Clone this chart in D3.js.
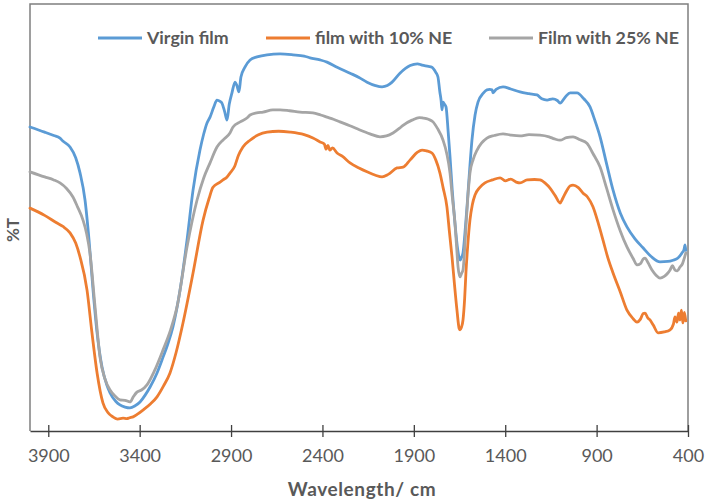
<!DOCTYPE html>
<html>
<head>
<meta charset="utf-8">
<script src="https://cdn.jsdelivr.net/npm/d3@7"></script>
<style>
  html, body { margin: 0; padding: 0; background: #fff; }
  svg { display: block; }
</style>
</head>
<body>
<svg id="chart" width="709" height="502"></svg>
<script>
// ---- data (wavenumber cm-1, %T in arbitrary 0-100 units) ----
const seriesNames = ["Virgin film", "film with 10% NE", "Film with 25% NE"];
const xTicks = [3900, 3400, 2900, 2400, 1900, 1400, 900, 400];

const virgin = [
  [4000,71.2],[3920,70.0],[3870,69.2],[3836,68.6],[3820,67.9],[3781,66.5],[3750,64.0],[3726,60.4],[3699,54.1],[3677,44.7],
  [3655,33.0],[3633,23.0],[3606,15.0],[3580,10.8],[3562,8.9],[3530,6.9],[3508,6.1],[3480,5.6],[3453,5.4],[3425,5.9],[3398,6.8],
  [3370,8.4],[3343,10.3],[3305,13.6],[3272,17.3],[3245,20.5],[3218,24.4],[3179,33.0],[3141,44.7],[3108,56.4],
  [3070,65.8],[3050,69.5],[3032,72.1],[3015,73.5],[2995,75.8],[2977,77.5],[2960,77.2],[2950,76.8],[2935,74.8],[2922,72.8],
  [2910,76.5],[2895,79.2],[2878,81.7],[2868,80.9],[2857,79.4],[2846,82.9],[2824,85.2],[2796,86.9],
  [2758,87.6],[2703,88.1],[2632,88.3],[2561,88.1],[2500,87.8],[2468,87.4],[2413,86.9],[2375,86.4],
  [2320,85.2],[2249,83.8],[2200,82.8],[2156,81.7],[2110,80.9],[2074,80.6],[2045,80.9],[2019,81.7],[1976,83.8],
  [1920,85.6],[1880,86.0],[1855,85.7],[1820,85.4],[1801,85.2],[1780,84.0],[1768,82.9],[1758,79.5],[1751,77.5],[1746,75.2],
  [1740,77.0],[1732,76.5],[1724,75.9],[1712,70.0],[1702,64.2],[1690,56.5],[1675,48.7],[1660,42.5],[1647,40.0],
  [1640,40.6],[1631,41.7],[1620,46.5],[1609,52.5],[1595,61.0],[1582,68.1],[1565,74.0],[1549,77.0],[1520,79.1],[1500,79.9],
  [1485,80.0],[1472,79.9],[1467,79.2],[1450,80.0],[1412,80.6],[1370,80.1],[1319,79.4],[1270,79.0],[1226,78.7],
  [1200,77.8],[1171,77.5],[1140,77.8],[1115,77.4],[1100,76.8],[1070,78.3],[1045,79.2],[1007,79.2],[970,77.8],
  [936,75.9],[910,72.8],[881,68.9],[845,62.5],[810,56.4],[770,51.0],[734,47.8],[690,45.0],[646,42.9],
  [600,40.8],[553,39.6],[510,39.7],[482,40.0],[455,40.5],[433,41.7],[422,42.5],[416,43.6],[412,42.3]
];

const ne10 = [
  [4000,52.2],[3920,50.5],[3852,48.7],[3820,47.9],[3781,46.4],[3750,44.0],[3726,40.7],[3688,33.0],[3661,23.0],
  [3633,13.6],[3601,6.6],[3575,4.4],[3546,3.3],[3520,2.8],[3491,3.0],[3470,2.9],[3455,3.1],[3436,3.3],[3410,4.0],
  [3382,4.9],[3340,6.4],[3305,8.0],[3270,10.5],[3234,13.6],[3200,18.5],[3163,25.3],[3108,37.0],[3053,49.4],
  [3020,54.5],[2999,57.1],[2960,58.3],[2944,58.8],[2922,59.5],[2906,60.4],[2880,62.0],[2860,64.5],[2835,66.5],
  [2796,68.1],[2750,69.4],[2703,70.0],[2640,70.2],[2577,70.0],[2500,69.4],[2452,68.6],[2413,67.7],[2390,67.2],
  [2380,66.0],[2370,66.9],[2360,65.8],[2345,66.3],[2320,65.1],[2290,64.3],[2249,62.8],[2200,61.6],[2156,60.7],[2110,59.9],
  [2074,59.5],[2040,60.1],[1992,61.6],[1959,61.8],[1920,63.5],[1880,65.3],[1855,65.8],[1830,65.6],[1801,65.1],[1780,63.5],
  [1757,60.4],[1740,57.0],[1719,52.5],[1705,46.5],[1691,40.7],[1678,34.5],[1664,28.3],[1652,24.0],[1647,23.7],
  [1640,24.2],[1631,26.0],[1622,31.0],[1615,37.0],[1605,43.5],[1593,49.4],[1580,53.0],[1565,55.3],[1540,57.0],
  [1511,58.1],[1470,58.8],[1428,59.3],[1400,58.6],[1370,59.0],[1340,58.3],[1319,58.1],[1280,58.8],[1240,58.9],
  [1210,58.8],[1180,58.0],[1155,56.9],[1125,55.0],[1100,53.4],[1085,54.5],[1062,56.4],[1045,57.4],[1029,57.6],[1000,57.0],
  [974,55.7],[950,54.8],[920,52.5],[890,48.5],[865,44.7],[840,40.8],[810,37.0],[770,32.5],[734,28.3],[700,26.3],
  [679,25.5],[660,26.2],[645,27.5],[635,27.6],[620,26.5],[608,26.0],[590,24.8],[564,23.0],[530,23.2],[498,23.7],
  [480,25.0],[471,26.7],[460,25.5],[452,27.6],[444,26.0],[436,28.3],[428,25.3],[420,27.8],[412,25.8]
];

const ne25 = [
  [4000,60.7],[3920,59.5],[3870,58.8],[3836,58.1],[3800,56.8],[3765,54.8],[3740,52.5],[3710,49.4],[3690,46.2],[3672,41.7],
  [3644,29.0],[3617,17.3],[3590,12.2],[3562,9.6],[3535,8.2],[3508,7.3],[3480,7.2],[3453,6.8],[3435,8.0],[3415,9.1],
  [3390,9.6],[3360,10.8],[3320,14.0],[3272,19.0],[3230,23.8],[3196,29.0],[3141,43.1],[3086,54.1],[3050,59.2],
  [3015,62.8],[2977,66.5],[2940,68.3],[2906,69.8],[2889,71.2],[2850,72.4],[2813,73.3],[2796,74.0],[2760,74.5],[2725,74.7],
  [2671,75.2],[2632,75.2],[2580,75.0],[2523,74.7],[2452,74.5],[2410,74.0],[2375,73.5],[2340,73.0],[2304,72.4],[2250,71.5],
  [2195,70.5],[2140,69.6],[2085,68.9],[2050,69.1],[2014,69.8],[1976,71.0],[1959,71.6],[1910,72.8],[1870,73.4],[1850,73.3],
  [1820,73.0],[1795,72.4],[1770,70.8],[1740,68.1],[1720,65.0],[1702,60.4],[1690,55.0],[1675,48.7],[1665,42.5],[1658,38.4],
  [1647,36.1],[1640,36.8],[1631,37.7],[1623,42.0],[1615,47.8],[1605,54.5],[1593,60.4],[1575,63.6],[1554,65.8],
  [1530,67.4],[1500,68.6],[1460,69.2],[1412,69.6],[1370,69.3],[1319,69.1],[1270,69.4],[1210,69.3],[1160,68.9],[1130,68.4],
  [1100,68.1],[1065,68.7],[1029,68.9],[990,68.2],[953,67.4],[920,65.0],[881,61.8],[845,56.8],[810,51.8],[770,46.8],
  [734,43.1],[700,40.4],[679,38.9],[660,39.2],[645,40.3],[635,40.5],[620,39.5],[597,37.7],[575,36.5],[553,35.8],[530,36.2],
  [510,37.0],[498,37.7],[485,38.7],[471,37.7],[458,37.5],[444,38.4],[430,39.2],[420,40.5],[412,41.7]
];

const seriesData = [virgin, ne10, ne25];
const colors = ["#5b9bd5", "#ed7d31", "#a5a5a5"];

// ---- layout ----
const svg = d3.select("#chart");
const plotLeft = 30, plotRight = 688, plotTop = 4, plotBottom = 431;

const x = d3.scaleLinear().domain([4000, 400]).range([plotLeft, plotRight]);
const y = d3.scaleLinear().domain([0, 100]).range([plotBottom, plotTop]);

// frame (left, top, right)
svg.append("path")
  .attr("d", `M${plotLeft},${plotBottom}V${plotTop}H${plotRight}V${plotBottom}`)
  .attr("fill", "none")
  .attr("stroke", "#7f7f7f")
  .attr("stroke-width", 1.5);

// series lines
const line = d3.line()
  .x(d => x(d[0]))
  .y(d => y(d[1]))
  .curve(d3.curveMonotoneX);

[0, 1, 2].forEach(i => {
  svg.append("path")
    .datum(seriesData[i])
    .attr("fill", "none")
    .attr("stroke", colors[i])
    .attr("stroke-width", 2.8)
    .attr("stroke-linejoin", "round")
    .attr("stroke-linecap", "round")
    .attr("d", line);
});

// x axis
const xAxis = d3.axisBottom(x)
  .tickValues(xTicks)
  .tickFormat(d3.format("d"))
  .tickSizeInner(0)
  .tickSizeOuter(0)
  .tickPadding(18);

const gx = svg.append("g")
  .attr("transform", `translate(0,${plotBottom})`)
  .call(xAxis);
gx.select(".domain").attr("stroke", "#404040").attr("stroke-width", 1.5);
gx.selectAll(".tick line").remove();
gx.selectAll(".tick").append("line")
  .attr("y1", -6).attr("y2", 6)
  .attr("stroke", "#404040").attr("stroke-width", 1.3);
gx.selectAll(".tick text")
  .attr("fill", "#595959")
  .style("font-family", "Lato, 'Open Sans', sans-serif")
  .style("font-size", "18px");

// axis titles
svg.append("text")
  .attr("x", 362).attr("y", 496)
  .attr("text-anchor", "middle")
  .attr("fill", "#595959")
  .style("font-family", "Lato, 'Open Sans', sans-serif")
  .style("font-weight", "bold")
  .style("font-size", "19px")
  .style("letter-spacing", "0.6px")
  .text("Wavelength/ cm");

svg.append("text")
  .attr("transform", "translate(19,230) rotate(-90)")
  .attr("text-anchor", "middle")
  .attr("fill", "#595959")
  .style("font-family", "Lato, 'Open Sans', sans-serif")
  .style("font-weight", "bold")
  .style("font-size", "17px")
  .text("%T");

// legend
const legendX = [98, 266, 489];
const legend = svg.append("g");
seriesNames.forEach((name, i) => {
  const g = legend.append("g").attr("transform", `translate(${legendX[i]},38)`);
  g.append("line")
    .attr("x1", 0).attr("x2", 44)
    .attr("stroke", colors[i]).attr("stroke-width", 2.8);
  g.append("text")
    .attr("x", 49).attr("y", 6)
    .attr("fill", "#595959")
    .style("font-family", "Lato, 'Open Sans', sans-serif")
    .style("font-weight", "bold")
    .style("font-size", "17.8px")
    .text(name);
});
</script>
</body>
</html>
